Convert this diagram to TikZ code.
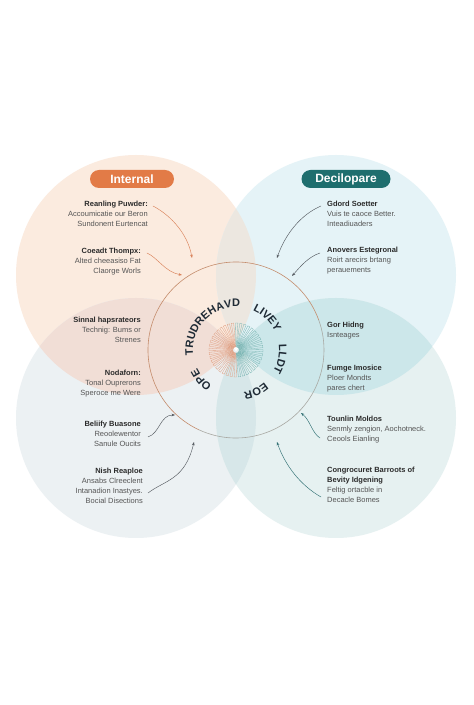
\documentclass[tikz,border=0pt]{standalone}
\usepackage{fontspec}
\setmainfont{Liberation Sans}
\usepackage{xcolor}
\usetikzlibrary{positioning,arrows.meta,decorations.text}

\definecolor{tlfill}{HTML}{FBEBDF}
\definecolor{trfill}{HTML}{E5F3F7}
\definecolor{blfill}{HTML}{ECF1F3}
\definecolor{brfill}{HTML}{E6F1F1}
\definecolor{topband}{HTML}{ECE7E0}
\definecolor{leftlens}{HTML}{F1DED6}
\definecolor{rightlens}{HTML}{CCE7EA}
\definecolor{lowband}{HTML}{D7E7E9}
\definecolor{pillorange}{HTML}{E27B47}
\definecolor{pillteal}{HTML}{1E6E6E}
\definecolor{ringbrown}{HTML}{C48C6C}
\definecolor{ringgray}{HTML}{A8A8A2}
\definecolor{ringtext}{HTML}{1E2A35}
\definecolor{headgray}{HTML}{2B2B2B}
\definecolor{txtgray}{HTML}{555555}
\definecolor{arrowor}{HTML}{D9825A}
\definecolor{arrowdk}{HTML}{555A60}
\definecolor{arrowtl}{HTML}{2F6F72}
\definecolor{fanor}{HTML}{E0A286}
\definecolor{fantl}{HTML}{7DB7B5}

\begin{document}
\begin{tikzpicture}[x=1pt,y=1pt,
        pill/.style = {shape=rectangle, rounded corners=9pt, minimum height=18pt,
        inner sep=0pt, text=white, font=\fontsize{12}{12}\selectfont\bfseries},
        lefttxt/.style = {align=right, anchor=north east, inner sep=0pt,
        text=txtgray, font=\fontsize{7.5}{9.8}\selectfont},
        righttxt/.style = {align=left, anchor=north west, inner sep=0pt,
        text=txtgray, font=\fontsize{7.5}{9.8}\selectfont},
        curly/.style = {-{Stealth[length=3.5pt,width=2.6pt]}, line width=0.45pt},
        fanline/.style = {line width=0.3pt}]
    \useasboundingbox (0,0) rectangle (474,705);
    \fill[white] (0,0) rectangle (474,705);

    % four circles
    \coordinate (tl) at (136,430);
    \coordinate (tr) at (336,430);
    \coordinate (bl) at (136,287);
    \coordinate (br) at (336,287);
    \coordinate (mid) at (236,355);
    \fill[tlfill] (tl) circle[radius=120];
    \fill[trfill] (tr) circle[radius=120];
    \fill[blfill] (bl) circle[radius=120];
    \fill[brfill] (br) circle[radius=120];
    \begin{scope}
        \clip (tl) circle[radius=120];
        \fill[topband] (tr) circle[radius=120];
        \fill[leftlens] (bl) circle[radius=120];
    \end{scope}
    \begin{scope}
        \clip (br) circle[radius=120];
        \fill[rightlens] (tr) circle[radius=120];
        \fill[lowband] (bl) circle[radius=120];
    \end{scope}

    % middle ring
    \draw[ringbrown, line width=0.6pt] ([shift={(20:88)}]mid)
        arc[start angle=20, end angle=245, radius=88];
    \draw[ringgray, line width=0.6pt] ([shift={(245:88)}]mid)
        arc[start angle=245, end angle=380, radius=88];
    \foreach \a in {95,104,...,266}
        \draw[fanline, fanor] ([shift={(\a:3)}]mid) -- ([shift={(\a:27)}]mid)
            arc[start angle=\a, end angle=\a+5, radius=27] -- ([shift={(\a+5:3)}]mid);
    \foreach \a in {-85,-76,...,86}
        \draw[fanline, fantl] ([shift={(\a:3)}]mid) -- ([shift={(\a:27)}]mid)
            arc[start angle=\a, end angle=\a+5, radius=27] -- ([shift={(\a+5:3)}]mid);
    \path[decorate, decoration={text along path,
        text={|\fontsize{11}{11}\selectfont\bfseries\color{ringtext}|OPE TRUDREHAVD LIVEY LLDT EOR},
        text align={fit to path stretching spaces}}]
        ([shift={(236:43)}]mid) arc[start angle=236, end angle=-80, radius=43];

    % titles
    \node[pill, fill=pillorange, minimum width=84pt] (internal) at (132,526) {Internal};
    \node[pill, fill=pillteal, minimum width=89pt] (decilo) at (346,526) {Decilopare};

    % text blocks
    \node[lefttxt] (tlA) at (148,504) {\textcolor{headgray}{\textbf{Reanling Puwder:}}\\
        Accoumicatie our Beron\\ Sundonent Eurtencat};
    \node[lefttxt] (tlB) at (141,457) {\textcolor{headgray}{\textbf{Coeadt Thompx:}}\\
        Alted cheeasiso Fat\\ Claorge Worls};
    \node[righttxt] (trA) at (327,504) {\textcolor{headgray}{\textbf{Gdord Soetter}}\\
        Vuis te caoce Better.\\ Inteadiuaders};
    \node[righttxt] (trB) at (327,458) {\textcolor{headgray}{\textbf{Anovers Estegronal}}\\
        Roirt arecirs brtang\\ perauements};
    \node[lefttxt] (lmA) at (141,388) {\textcolor{headgray}{\textbf{Sinnal hapsrateors}}\\
        Technig: Bums or\\ Strenes};
    \node[lefttxt] (lmB) at (141,335) {\textcolor{headgray}{\textbf{Nodaforn:}}\\
        Tonal Ouprerons\\ Speroce me Were};
    \node[righttxt] (rmA) at (327,383) {\textcolor{headgray}{\textbf{Gor Hidng}}\\
        Isnteages};
    \node[righttxt] (rmB) at (327,340) {\textcolor{headgray}{\textbf{Fumge Imosice}}\\
        Ploer Mondts\\ pares chert};
    \node[lefttxt] (blA) at (141,284) {\textcolor{headgray}{\textbf{Beliify Buasone}}\\
        Reoolewentor\\ Sanule Oucits};
    \node[lefttxt] (blB) at (143,237) {\textcolor{headgray}{\textbf{Nish Reaploe}}\\
        Ansabs Clreeclent\\ Intanadion Inastyes.\\ Bocial Disections};
    \node[righttxt] (brA) at (327,289) {\textcolor{headgray}{\textbf{Tounlin Moldos}}\\
        Senmly zengion, Aochotneck.\\ Ceools Eianling};
    \node[righttxt] (brB) at (327,238) {\textcolor{headgray}{\textbf{Congrocuret Barroots of}}\\
        \textcolor{headgray}{\textbf{Bevity Idgening}}\\ Feltig ortacble in\\ Decacle Bomes};

    % arrows into the ring
    \coordinate (tlAend) at (192,447);
    \coordinate (tlBend) at (182,430);
    \coordinate (trAend) at (277,447);
    \coordinate (trBend) at (292,429);
    \coordinate (blAend) at (175,290);
    \coordinate (blBend) at (194,263);
    \coordinate (brAend) at (301,292);
    \coordinate (brBend) at (277,263);
    \draw[curly, arrowor] ([shift={(5,-5)}]tlA.north east) .. controls (172,489) and (188,470) .. (tlAend);
    \draw[curly, arrowor] ([shift={(6,-5)}]tlB.north east) .. controls (158,447) and (165,433) .. (tlBend);
    \draw[curly, arrowdk] ([shift={(-6,-5)}]trA.north west) .. controls (300,490) and (285,470) .. (trAend);
    \draw[curly, arrowdk] ([shift={(-7,-6)}]trB.north west) .. controls (308,448) and (300,438) .. (trBend);
    \draw[curly, arrowdk] ([shift={(7,-16)}]blA.north east) .. controls (160,272) and (160,290) .. (blAend);
    \draw[curly, arrowdk] ([shift={(5,-25)}]blB.north east) .. controls (165,225) and (185,225) .. (blBend);
    \draw[curly, arrowtl] ([shift={(-7,-22)}]brA.north west) .. controls (312,272) and (310,285) .. (brAend);
    \draw[curly, arrowtl] ([shift={(-6,-30)}]brB.north west) .. controls (300,220) and (285,240) .. (brBend);
\end{tikzpicture}
\end{document}
